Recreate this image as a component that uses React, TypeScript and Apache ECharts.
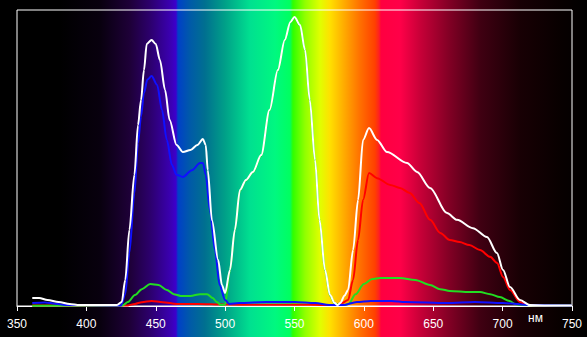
import React, { useEffect, useRef } from "react";
import * as echarts from "echarts";

const xTicks = [350, 400, 450, 500, 550, 600, 650, 700, 750];
const unitLabel = "нм";

const whiteNm = [361, 366, 372, 380, 388, 395, 410, 422, 425.5, 428, 431, 434.6, 437.2, 439.4, 441.5, 443.5, 447, 450, 453, 456.7, 460, 465, 469.6, 475, 480, 484, 486, 487.5, 490.5, 495, 497.7, 500, 503.5, 507, 510.7, 515, 520, 526, 532, 538, 543, 547, 550, 554, 557.6, 561, 564.8, 568, 572, 575.6, 579, 581, 583, 586, 588.6, 592.2, 595.8, 599.4, 603.7, 609.5, 616.7, 631.1, 638.3, 647.7, 659.9, 667.1, 678.6, 688.7, 695.9, 700.3, 705.3, 712.5, 719.7, 730, 750];
const whiteVal = [2.7, 2.7, 2.0, 1.35, 0.7, 0.3, 0.3, 0.3, 1.35, 8.8, 25.7, 44.3, 61.1, 69.6, 79.7, 88.5, 89.9, 88.5, 83.1, 73.0, 62.8, 54.4, 52.0, 52.7, 54.4, 56.4, 54.4, 45.9, 29.0, 15.5, 7.1, 4.4, 12.2, 25.7, 39.2, 42.6, 45.3, 51.0, 66.2, 79.7, 89.9, 95.9, 97.6, 94.9, 86.5, 69.6, 49.3, 29.1, 12.2, 3.7, 1.0, 0.3, 1.0, 3.5, 5.4, 18.9, 35.8, 56.1, 60.1, 56.1, 52.0, 48.3, 45.3, 39.9, 31.4, 29.1, 26.3, 23.3, 17.9, 12.2, 6.4, 2.0, 0.3, 0.2, 0.2];

const blueNm = [361, 370, 378, 385, 425, 428, 431, 434.6, 437.2, 439.4, 441.5, 444, 447, 451, 454.5, 458, 461.7, 465, 469.6, 476, 482, 484, 486, 489, 492.7, 496, 500, 503, 510, 530, 550, 565, 575, 585, 595, 605, 620, 630, 660, 680, 700, 720, 750];
const blueVal = [1.0, 1.2, 0.8, 0.3, 0.2, 4, 18, 38, 55, 64, 72, 76.5, 77.7, 74.7, 66.2, 56.1, 47.6, 44.3, 43.6, 45.9, 48.3, 48.3, 44.3, 32.4, 18.9, 7.1, 2.0, 0.7, 1.0, 1.35, 1.35, 1.0, 0.3, 0.3, 1.35, 1.7, 1.7, 1.35, 1.0, 1.35, 1.0, 0.3, 0.2];

const redNm = [361, 430, 435, 440, 447, 455, 465, 480, 500, 520, 560, 580, 584, 588.6, 592.2, 595.8, 599.4, 603.7, 609.5, 619, 626, 633, 640, 647.7, 655, 662, 669, 676, 683.7, 691, 696, 700.3, 705.3, 712.5, 718, 750];
const redVal = [0.2, 0.2, 0.7, 1.3, 1.7, 1.3, 0.7, 0.7, 0.5, 0.4, 0.4, 0.3, 1.0, 2.0, 8.8, 22.3, 35.8, 44.9, 43.2, 40.9, 39.9, 38.2, 34.8, 29.1, 24.7, 22.3, 21.6, 20.6, 18.9, 16.6, 14.5, 9.8, 5.4, 1.35, 0.3, 0.2];

const greenNm = [361, 426, 430, 435, 440, 446, 452, 458, 463, 468, 475, 482, 487, 491, 494, 497, 500, 503.5, 507, 510.7, 515, 520, 526, 532, 538, 543, 547, 550, 554, 557.6, 561, 564.8, 568, 572, 575.6, 579, 583, 586, 589, 594, 600, 606, 611.6, 626, 637, 647.7, 655, 662, 676, 683.7, 691, 698, 705, 709, 713, 750];
const greenVal = [0.1, 0.2, 1.35, 3.7, 5.7, 7.4, 7.1, 5.4, 4.0, 3.4, 3.4, 4.0, 4.0, 2.7, 1.35, 0.3, 0.5, 12.0, 25.5, 39.0, 42.4, 45.1, 50.8, 66.0, 79.5, 89.7, 95.7, 97.4, 94.7, 86.3, 69.4, 49.1, 28.9, 12.0, 3.5, 0.8, 0.3, 0.3, 0.7, 4.0, 7.4, 9.1, 9.5, 9.5, 8.8, 7.1, 5.7, 5.1, 4.7, 4.7, 4.0, 3.0, 1.7, 0.7, 0.3, 0.2];

const zip = (xs: number[], ys: number[]) => xs.map((x, i) => [x, ys[i]]);

const W = 587;
const H = 337;

const spectrumStops: [number, string][] = [
  [0, "#000000"],
  [60, "#000000"],
  [100, "#08000e"],
  [130, "#1e0038"],
  [150, "#2c006c"],
  [170, "#3a00b0"],
  [176, "#3c00cc"],
  [178, "#0040c8"],
  [190, "#005aa8"],
  [205, "#007090"],
  [225, "#00a088"],
  [250, "#00e090"],
  [275, "#00f880"],
  [290, "#00ff60"],
  [293, "#30ff00"],
  [305, "#90ff00"],
  [320, "#e0ff00"],
  [330, "#ffe000"],
  [345, "#ffa800"],
  [360, "#ff7000"],
  [375, "#ff4000"],
  [379, "#ff2020"],
  [381, "#ff0040"],
  [400, "#ff0048"],
  [420, "#c80038"],
  [450, "#800024"],
  [480, "#400012"],
  [520, "#180004"],
  [560, "#080000"],
  [587, "#000000"],
];

export default function App() {
  const ref = useRef<HTMLDivElement>(null);
  useEffect(() => {
    if (!ref.current) return;
    const chart = echarts.init(ref.current, undefined, { renderer: "svg" });
    const lineSeries = (name: string, data: number[][], color: string, z: number) => ({
      name,
      type: "line",
      data,
      symbol: "none",
      smooth: 0.3,
      smoothMonotone: "x",
      z,
      lineStyle: { color, width: 2 },
    });
    chart.setOption({
      animation: false,
      backgroundColor: "#000",
      graphic: [
        {
          type: "rect",
          z: -100,
          silent: true,
          shape: { x: 0, y: 0, width: W, height: H },
          style: {
            fill: new echarts.graphic.LinearGradient(
              0,
              0,
              1,
              0,
              spectrumStops.map(([p, c]) => ({ offset: p / W, color: c }))
            ),
          },
        },
        {
          type: "text",
          x: 528,
          y: 318,
          z: 10,
          style: {
            text: unitLabel,
            fill: "#ffffff",
            fontSize: 12,
            fontFamily: "Liberation Sans, Arial, sans-serif",
            verticalAlign: "middle",
            align: "left",
          },
        },
      ],
      grid: {
        left: 17,
        right: W - 572,
        top: 10,
        bottom: H - 306,
        show: true,
        borderColor: "#ffffff",
        borderWidth: 1,
        backgroundColor: "transparent",
      },
      xAxis: {
        type: "value",
        min: xTicks[0],
        max: xTicks[xTicks.length - 1],
        interval: 50,
        axisLine: { show: true, lineStyle: { color: "#ffffff", width: 1 } },
        axisTick: { show: true, length: 5, lineStyle: { color: "#ffffff" } },
        axisLabel: {
          color: "#ffffff",
          fontSize: 12,
          fontFamily: "Liberation Sans, Arial, sans-serif",
          margin: 12,
        },
        splitLine: { show: false },
      },
      yAxis: {
        type: "value",
        min: 0,
        max: 100,
        show: false,
        splitLine: { show: false },
      },
      series: [
        lineSeries("red", zip(redNm, redVal), "#ff0000", 2),
        lineSeries("green", zip(greenNm, greenVal), "#22dd22", 3),
        lineSeries("blue", zip(blueNm, blueVal), "#1010ff", 4),
        lineSeries("white", zip(whiteNm, whiteVal), "#ffffff", 5),
      ],
    });
    return () => chart.dispose();
  }, []);
  return (
    <div
      ref={ref}
      style={{ position: "absolute", left: 0, top: 0, width: W, height: H }}
    />
  );
}
